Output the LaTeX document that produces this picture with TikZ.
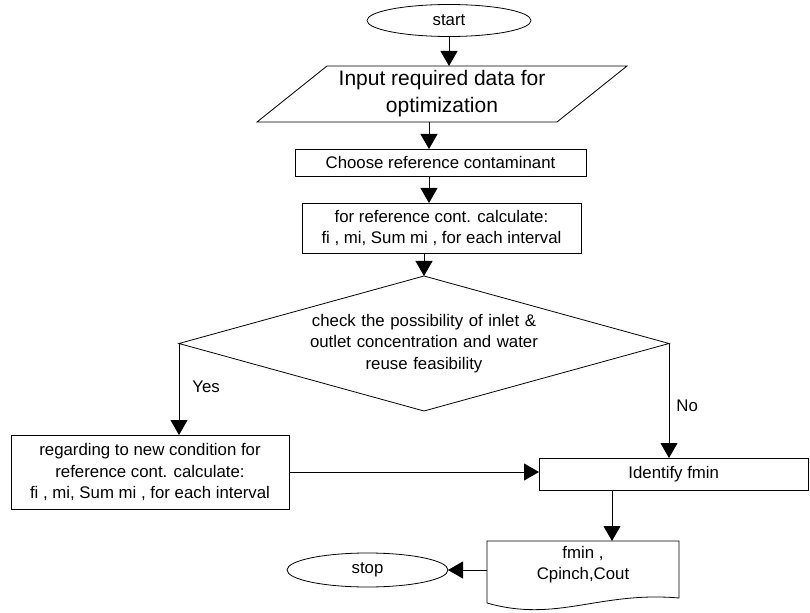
\documentclass[tikz,border=0pt]{standalone}
\usepackage{fontspec}
\setmainfont{Liberation Sans}
\usetikzlibrary{shapes.geometric,arrows.meta,calc}
\tikzset{
  base/.style={inner sep=0pt, outer sep=0pt, font=\fontsize{16.8bp}{21.3bp}\selectfont, align=center},
  boxnode/.style={base, draw, rectangle},
  term/.style={base, draw, ellipse},
  arr/.style={-{Triangle[length=15bp,width=17bp]}},
  lbl/.style={inner sep=0pt, font=\fontsize{16.8bp}{20bp}\selectfont}
}
\begin{document}
\begin{tikzpicture}[x=1bp,y=-1bp,line width=0.8bp]
\useasboundingbox (0,0) rectangle (810,613);
% terminals
\node[term, minimum width=164bp, minimum height=32bp] (start) at (449,20.5) {start};
\node[term, minimum width=161bp, minimum height=34bp] (stop) at (367.5,570) {stop};
% input parallelogram
\node[base, font=\fontsize{21bp}{27bp}\selectfont, minimum width=300bp, minimum height=56bp] (inp) at (442,94) {Input required data for\\optimization};
\draw ($(inp.north west)+(35,0)$) -- ($(inp.north east)+(35,0)$) -- ($(inp.south east)+(-35,0)$) -- ($(inp.south west)+(-35,0)$) -- cycle;
% process boxes
\node[boxnode, minimum width=291bp, minimum height=27bp] (choose) at (440.5,162.5) {Choose reference contaminant};
\node[boxnode, minimum width=279bp, minimum height=50bp] (calc) at (441.5,228) {for reference cont. calculate:\\fi , mi, Sum mi , for each interval};
\node[base, draw, diamond, aspect=3.63, text width=240bp, minimum width=490bp, minimum height=135bp] (dia) at (424,343.5) {check the possibility of inlet \&\\outlet concentration and water\\reuse feasibility};
\node[boxnode, minimum width=278bp, minimum height=74bp] (newc) at (150,472) {regarding to new condition for\\reference cont. calculate:\\fi , mi, Sum mi , for each interval};
\node[boxnode, minimum width=269.5bp, minimum height=32bp] (ident) at (673.75,474) {Identify fmin};
% document
\node[base, minimum width=192bp, minimum height=48bp] (doc) at (583,565) {fmin ,\\Cpinch,Cout};
\draw ($(doc.south west)+(0,14)$) -- (doc.north west) -- (doc.north east) -- ($(doc.south east)+(0,9)$)
  .. controls ($(doc.south east)+(-80,2)$) and ($(doc.south west)+(70,34)$) .. ($(doc.south west)+(0,14)$);
% connectors
\draw[arr] (start.south) -- (start.south |- inp.north);
\draw[arr] ([xshift=-11.5bp]choose.north |- inp.south) -- ([xshift=-11.5bp]choose.north);
\draw[arr] ([xshift=-11.5bp]choose.south) -- ([xshift=-11.5bp]choose.south |- calc.north);
\draw[arr] (dia.north |- calc.south) -- (dia.north);
\draw[arr] (dia.west) -- (dia.west |- newc.north) node[lbl, pos=0.47, anchor=west, xshift=13bp] (yes) {Yes};
\draw[arr] (dia.east) -- (dia.east |- ident.north) node[lbl, pos=0.54, anchor=west, xshift=7bp] (no) {No};
\draw[arr] (newc.east) -- (newc.east -| ident.west);
\draw[arr] ([xshift=29bp]doc.north |- ident.south) -- ([xshift=29bp]doc.north);
\draw[arr] (doc.west |- stop.east) -- (stop.east);
\end{tikzpicture}
\end{document}
